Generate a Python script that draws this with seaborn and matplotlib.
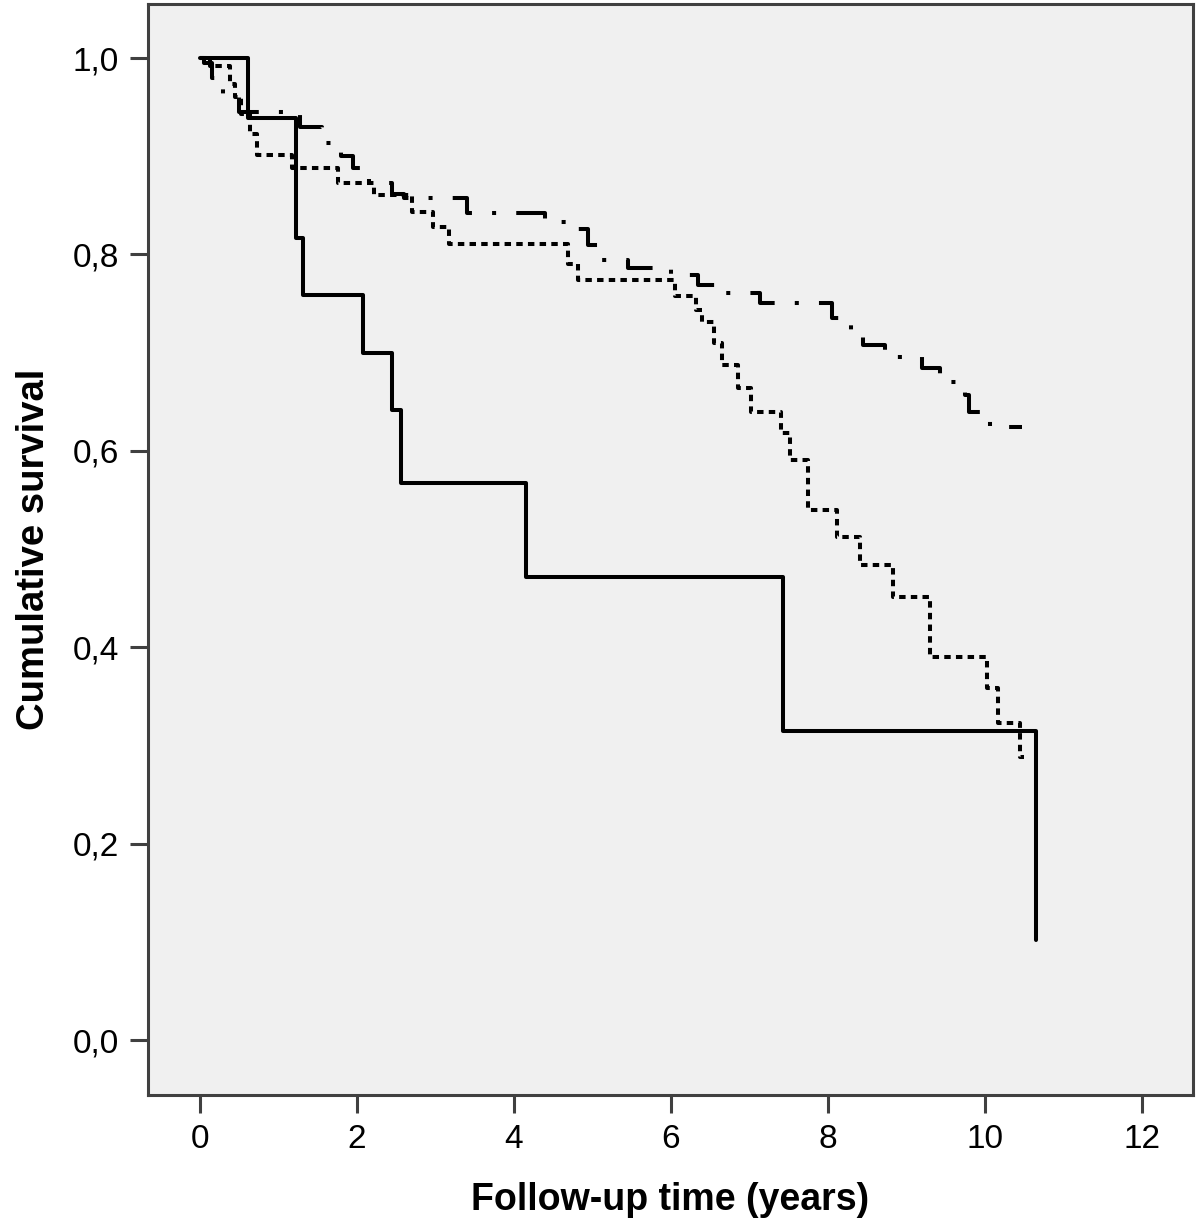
import matplotlib
matplotlib.use("Agg")
import matplotlib.pyplot as plt
import seaborn as sns
import pandas as pd

# Kaplan-Meier step curves (time in years, cumulative survival)
solid_time = [0, 0.62, 1.23, 1.31, 2.08, 2.45, 2.56, 4.15, 7.43, 10.65]
solid_surv = [1.0, 0.939, 0.817, 0.759, 0.700, 0.642, 0.567, 0.472, 0.315, 0.102]

dotted_time = [0, 0.13, 0.38, 0.45, 0.53, 0.64, 0.73, 1.18, 1.76, 2.22, 2.7, 2.97, 3.17,
               4.69, 4.82, 6.05, 6.32, 6.4, 6.55, 6.65, 6.85, 7.02, 7.4, 7.52, 7.75,
               8.12, 8.41, 8.83, 9.3, 10.03, 10.17, 10.45, 10.5]
dotted_surv = [1.0, 0.992, 0.974, 0.96, 0.943, 0.923, 0.901, 0.888, 0.873, 0.86, 0.843,
               0.828, 0.811, 0.79, 0.774, 0.758, 0.743, 0.731, 0.71, 0.687, 0.664, 0.640,
               0.618, 0.591, 0.540, 0.512, 0.484, 0.451, 0.390, 0.358, 0.323, 0.288, 0.288]

dashdot_time = [0, 0.05, 0.15, 0.3, 0.5, 1.28, 1.55, 1.8, 1.95, 2.15, 2.45, 2.6, 3.4,
                4.4, 4.75, 4.95, 5.1, 5.45, 6.0, 6.35, 6.6, 7.13, 8.05, 8.3, 8.45, 8.73,
                9.2, 9.43, 9.75, 9.8, 10.06, 10.47]
dashdot_surv = [1.0, 0.995, 0.98, 0.96, 0.945, 0.93, 0.913, 0.90, 0.888, 0.873, 0.862,
                0.857, 0.842, 0.833, 0.826, 0.81, 0.794, 0.786, 0.779, 0.769, 0.761,
                0.751, 0.735, 0.72, 0.708, 0.696, 0.684, 0.670, 0.657, 0.640, 0.624, 0.624]

x_ticks = [0, 2, 4, 6, 8, 10, 12]
y_ticks = [0.0, 0.2, 0.4, 0.6, 0.8, 1.0]
y_tick_labels = ["0,0", "0,2", "0,4", "0,6", "0,8", "1,0"]

sns.set_style("white")
plt.rcParams["font.family"] = ["Liberation Sans", "DejaVu Sans"]
plt.rcParams["text.color"] = "black"
plt.rcParams["axes.labelcolor"] = "black"

fig = plt.figure(figsize=(12, 12.2), dpi=100)
ax = fig.add_axes([148 / 1200, 125 / 1220, 1045 / 1200, 1091 / 1220])
ax.set_facecolor("#f0f0f0")

curves = [
    (solid_time, solid_surv, None),
    (dotted_time, dotted_surv, (1.6, 1.3)),
    (dashdot_time, dashdot_surv, (8.5, 5, 1, 5)),
]
for t, s, dash in curves:
    df = pd.DataFrame({"time": t, "surv": s})
    sns.lineplot(data=df, x="time", y="surv", drawstyle="steps-post", estimator=None,
                 sort=False, color="black", linewidth=2.9, ax=ax)
    if dash is not None:
        ax.lines[-1].set_dashes(dash)

ax.set_xlim(-0.66, 12.65)
ax.set_ylim(-0.056, 1.055)
ax.set_xticks(x_ticks)
ax.set_yticks(y_ticks)
ax.set_yticklabels(y_tick_labels)
ax.tick_params(axis="both", bottom=True, left=True, direction="out", length=13, width=2.2,
               color="#404040", labelsize=24, pad=8, labelcolor="black")
for sp in ax.spines.values():
    sp.set_color("#404040")
    sp.set_linewidth(2.2)

ax.set_xlabel("Follow-up time (years)", fontsize=27, fontweight="bold", labelpad=19)
ax.set_ylabel("Cumulative survival", fontsize=27.5, fontweight="bold", labelpad=15)

fig.savefig("out.png", dpi=100)
